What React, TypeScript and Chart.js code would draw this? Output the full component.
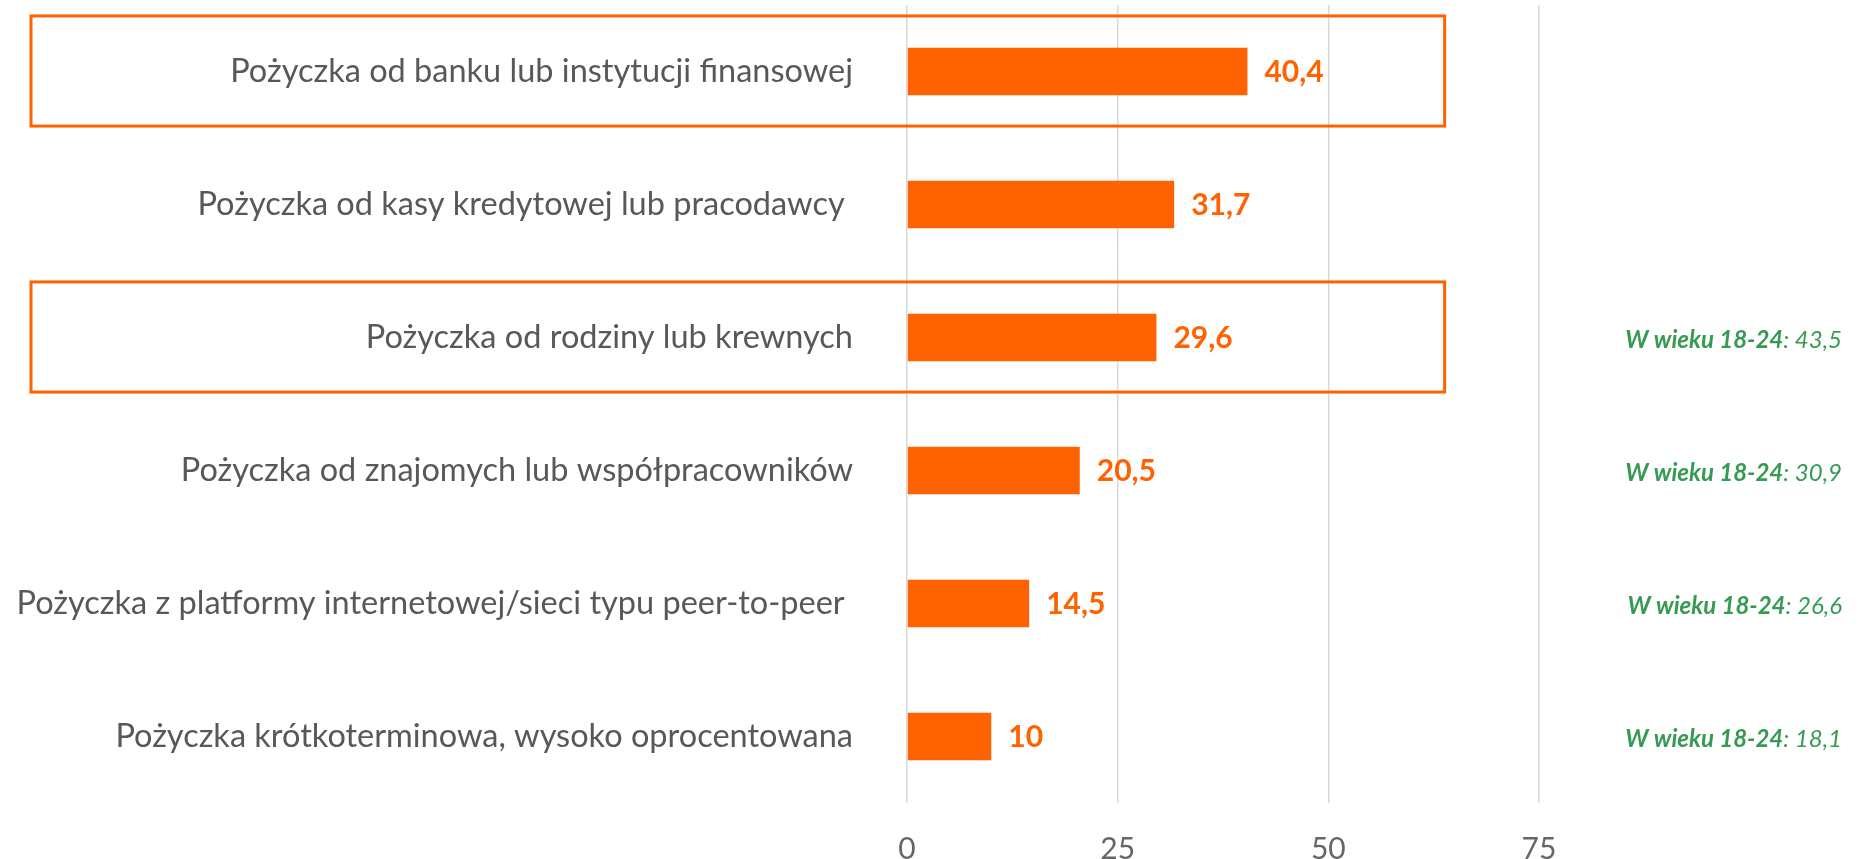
import React, { useEffect, useRef } from "react";
import { Chart, registerables } from "chart.js";

Chart.register(...registerables);

const categories = [
  "Pożyczka od banku lub instytucji finansowej",
  "Pożyczka od kasy kredytowej lub pracodawcy ",
  "Pożyczka od rodziny lub krewnych",
  "Pożyczka od znajomych lub współpracowników",
  "Pożyczka z platformy internetowej/sieci typu peer-to-peer ",
  "Pożyczka krótkoterminowa, wysoko oprocentowana",
];
const values = [40.4, 31.7, 29.6, 20.5, 14.5, 10];
const youngValues: (number | null)[] = [null, null, 43.5, 30.9, 26.6, 18.1];
const youngLabel = "W wieku 18-24";
const highlightedRows = [0, 2];
const highlightRightValue = 63.8;
const xMin = 0;
const xMax = 75;
const xStep = 25;

const ORANGE = "#FF6200";
const GREEN = "#359a52";
const TEXT_GREY = "#585858";
const TICK_GREY = "#666666";
const GRID = "#d9d9d9";
const FONT = "Lato, 'Open Sans', sans-serif";

const fmt = (v: number) => String(v).replace(".", ",");

const overlayPlugin = {
  id: "overlay",
  afterDatasetsDraw(chart: any) {
    const ctx = chart.ctx;
    const meta = chart.getDatasetMeta(0);
    ctx.save();
    ctx.font = `bold 30px ${FONT}`;
    ctx.fillStyle = ORANGE;
    ctx.textAlign = "left";
    ctx.textBaseline = "middle";
    meta.data.forEach((bar: any, i: number) => {
      ctx.fillText(fmt(values[i]), bar.x + 17, bar.y + 1);
    });
    ctx.restore();
  },
  afterDraw(chart: any) {
    const ctx = chart.ctx;
    const yScale = chart.scales.y;
    const xScale = chart.scales.x;
    const band = yScale.getPixelForValue(1) - yScale.getPixelForValue(0);
    const half = band * 0.414;
    ctx.save();
    ctx.strokeStyle = ORANGE;
    ctx.lineWidth = 3;
    const left = 31;
    const right = xScale.getPixelForValue(highlightRightValue);
    highlightedRows.forEach((i) => {
      const cy = yScale.getPixelForValue(i) - 0.5;
      ctx.strokeRect(left, cy - half, right - left, half * 2);
    });
    // green annotations
    const rightEdge = chart.width - 28;
    ctx.textBaseline = "middle";
    ctx.textAlign = "left";
    ctx.fillStyle = GREEN;
    youngValues.forEach((v, i) => {
      if (v == null) return;
      const cy = yScale.getPixelForValue(i) + 3;
      const p1 = youngLabel;
      const p2 = ": " + fmt(v);
      ctx.font = `italic bold 24px ${FONT}`;
      const w1 = ctx.measureText(p1).width;
      ctx.font = `italic 24px ${FONT}`;
      const w2 = ctx.measureText(p2).width;
      const x0 = rightEdge - w1 - w2;
      ctx.font = `italic bold 24px ${FONT}`;
      ctx.fillText(p1, x0, cy);
      ctx.font = `italic 24px ${FONT}`;
      ctx.fillText(p2, x0 + w1, cy);
    });
    ctx.restore();
  },
};

export default function App() {
  const ref = useRef<HTMLCanvasElement | null>(null);
  useEffect(() => {
    if (!ref.current) return;
    const chart = new Chart(ref.current, {
      type: "bar",
      data: {
        labels: categories,
        datasets: [
          {
            data: values,
            backgroundColor: ORANGE,
            barPercentage: 0.356,
            categoryPercentage: 1,
          },
        ],
      },
      options: {
        indexAxis: "y",
        animation: false,
        responsive: false,
        maintainAspectRatio: false,
        layout: { padding: { left: 0, right: 331, top: 5, bottom: 0 } },
        plugins: { legend: { display: false }, tooltip: { enabled: false } },
        scales: {
          x: {
            min: xMin,
            max: xMax,
            grid: { color: GRID, lineWidth: 1.5, drawTicks: false },
            border: { display: false },
            ticks: {
              stepSize: xStep,
              font: { family: FONT, size: 30 },
              color: TICK_GREY,
              padding: 28,
            },
            afterFit: (s: any) => {
              s.height = 56;
            },
          },
          y: {
            grid: { display: false, drawTicks: false },
            border: { display: false },
            ticks: {
              font: { family: FONT, size: 32.5 },
              color: TEXT_GREY,
              padding: 54,
            },
            afterFit: (s: any) => {
              s.width = 907;
              s.paddingTop = 0;
              s.paddingBottom = 0;
            },
          },
        },
      } as any,
      plugins: [overlayPlugin],
    });
    return () => chart.destroy();
  }, []);
  return (
    <div style={{ position: "absolute", left: 0, top: 0, width: 1870, height: 859, background: "#fff" }}>
      <canvas ref={ref} width={1870} height={859} />
    </div>
  );
}
